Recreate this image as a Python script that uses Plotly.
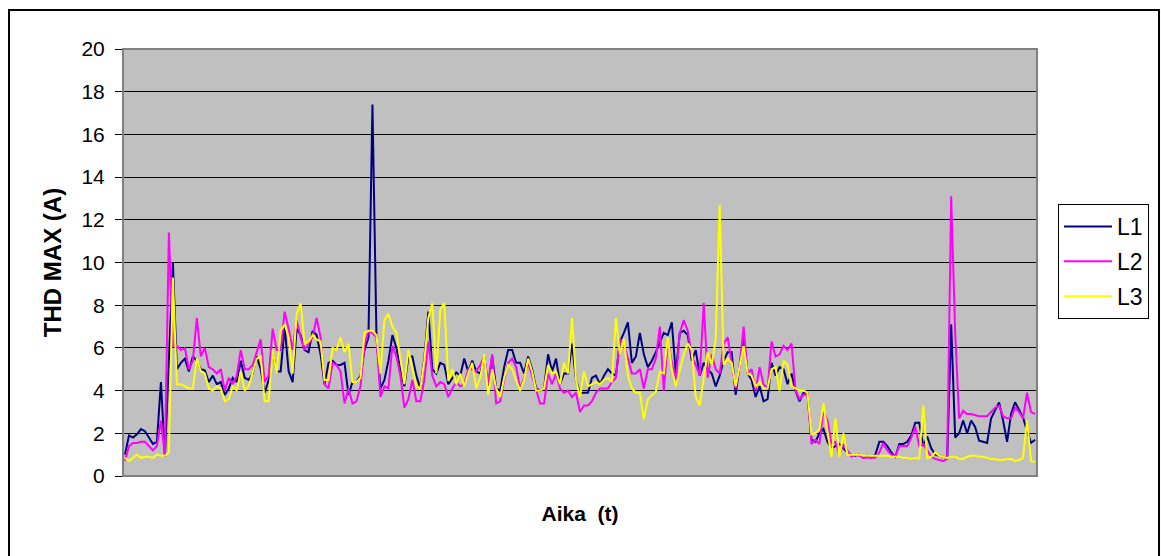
import plotly.graph_objects as go

# THD maximum current per phase over the measurement period
l1 = [1.0, 1.9, 1.8, 1.95, 2.2, 2.1, 1.8, 1.5, 1.6, 4.4, 0.9, 5.5, 10.0, 5.0, 5.3, 5.5, 4.9, 5.6, 5.4, 5.0,
      4.95, 4.4, 4.7, 4.3, 4.4, 3.8, 4.1, 4.6, 4.4, 5.4, 4.6, 4.5, 4.8, 5.6, 5.0, 3.9, 4.5, 5.8, 4.9,
      4.9, 7.0, 4.9, 4.4, 6.9, 6.6, 5.9, 5.8, 6.8, 6.6, 5.7, 4.3, 5.3, 5.4, 5.2, 5.2, 5.3, 3.8, 4.4, 4.4,
      4.7, 5.9, 6.5, 17.4, 6.6, 4.1, 4.5, 5.4, 6.6, 6.0, 5.0, 4.2, 5.6, 5.6, 4.7, 4.1, 5.5, 7.7, 5.0,
      4.8, 5.3, 5.2, 4.3, 4.6, 4.85, 4.7, 5.5, 4.9, 5.4, 4.9, 4.8, 5.6, 4.2, 5.6, 4.1, 4.0, 5.1, 5.9, 5.9,
      5.3, 5.3, 4.8, 5.6, 5.0, 4.1, 4.0, 4.1, 5.7, 4.9, 5.5, 4.3, 4.8, 4.8, 6.2, 4.5, 3.9, 3.9, 3.9,
      4.6, 4.7, 4.3, 4.7, 5.0, 4.8, 4.7, 6.3, 6.7, 7.2, 5.3, 5.6, 6.7, 5.7, 5.1, 5.4, 5.8, 6.3, 6.7, 6.6,
      7.2, 4.8, 6.7, 6.8, 6.6, 5.4, 5.9, 4.7, 5.3, 5.0, 4.8, 4.2, 4.7, 5.4, 5.8, 5.8, 3.8, 5.2, 6.5,
      4.8, 4.5, 3.7, 4.2, 3.5, 3.6, 5.3, 4.7, 5.1, 5.0, 4.3, 4.8, 4.0, 3.5, 3.9, 3.9, 1.7, 1.6, 2.0, 2.2,
      1.6, 1.3, 1.4, 1.5, 1.3, 1.1, 1.0, 0.95, 1.0, 0.85, 0.95, 0.85, 1.0, 1.6, 1.6, 1.4, 1.1, 0.9, 1.5,
      1.5, 1.6, 1.9, 2.5, 2.5, 1.4, 1.85, 1.3, 1.0, 0.95, 0.9, 0.85, 7.1, 1.8, 2.0, 2.6, 2.0, 2.6, 2.3,
      1.65, 1.6, 1.55, 2.7, 3.05, 3.45, 2.6, 1.6, 2.9, 3.45, 3.1, 2.75, 2.1, 1.55, 1.7]

l2 = [0.7, 1.4, 1.55, 1.55, 1.6, 1.6, 1.4, 1.2, 1.4, 2.6, 0.95, 11.4, 6.1, 6.1, 5.9, 6.0, 5.0, 5.4, 7.4, 5.6,
      6.0, 5.1, 5.0, 4.8, 5.0, 4.0, 4.6, 4.3, 4.7, 5.9, 5.0, 5.0, 5.2, 5.8, 6.4, 4.4, 4.7, 6.9, 5.9,
      5.9, 7.7, 6.9, 5.9, 7.3, 6.5, 5.9, 6.2, 6.5, 7.4, 6.5, 4.3, 4.1, 5.3, 5.2, 4.9, 3.4, 4.1, 3.4, 3.5,
      4.2, 6.1, 6.8, 6.7, 6.5, 3.7, 4.2, 4.1, 6.1, 5.6, 4.7, 3.2, 3.6, 4.5, 3.5, 3.5, 4.5, 6.3, 4.7,
      4.2, 4.4, 4.3, 3.7, 4.1, 4.4, 4.2, 4.3, 5.0, 5.0, 4.9, 5.2, 5.6, 4.3, 5.7, 3.4, 3.5, 4.5, 5.3, 5.5,
      5.1, 4.1, 4.6, 5.3, 4.7, 4.1, 3.4, 3.4, 4.8, 4.3, 4.8, 4.1, 3.9, 4.0, 3.7, 3.9, 3.0, 3.3, 3.3,
      3.5, 3.9, 4.1, 4.1, 4.1, 4.4, 4.6, 6.4, 6.2, 5.5, 4.8, 4.8, 5.0, 4.1, 5.0, 5.0, 5.5, 7.0, 4.0, 6.3,
      5.4, 4.4, 6.7, 7.3, 6.8, 5.6, 5.2, 4.7, 8.1, 4.6, 5.7, 5.0, 4.8, 6.2, 6.5, 5.2, 4.1, 5.2, 7.0,
      4.8, 5.0, 4.0, 5.1, 4.3, 4.1, 6.3, 5.6, 5.7, 6.1, 5.9, 6.2, 4.0, 3.6, 3.8, 3.8, 1.5, 1.7, 1.5, 3.1,
      2.6, 1.5, 1.6, 1.0, 1.5, 1.2, 0.9, 1.0, 0.95, 0.85, 0.85, 0.85, 0.85, 1.1, 1.55, 1.2, 1.0, 0.95, 1.4,
      1.4, 1.4, 1.8, 2.3, 1.4, 1.5, 1.2, 0.9, 0.8, 0.75, 0.7, 0.8, 13.1, 6.7, 2.7, 3.05, 2.9, 2.9, 2.85,
      2.8, 2.8, 2.8, 3.0, 3.2, 3.3, 2.8, 2.7, 2.7, 3.2, 3.0, 2.7, 3.9, 3.0, 2.9]

l3 = [0.85, 0.7, 0.85, 1.0, 0.85, 0.9, 0.9, 0.85, 1.0, 0.95, 0.95, 1.1, 9.3, 4.3, 4.3, 4.2, 4.1, 4.1, 5.5, 4.9,
      4.8, 4.1, 4.0, 4.2, 4.1, 3.5, 3.6, 4.2, 4.0, 4.9, 4.0, 4.2, 4.9, 5.5, 5.6, 3.5, 3.5, 5.9, 4.8,
      6.8, 7.1, 6.5, 4.8, 7.6, 8.1, 6.2, 6.3, 6.6, 6.4, 6.3, 4.5, 4.5, 6.0, 5.9, 6.5, 5.8, 6.2, 4.4, 4.4,
      4.6, 6.7, 6.8, 6.8, 6.6, 4.8, 7.3, 7.6, 7.0, 6.7, 5.5, 4.3, 5.9, 5.0, 4.2, 4.1, 5.4, 7.4, 8.1,
      4.8, 7.8, 8.1, 4.45, 5.0, 4.3, 4.8, 4.2, 4.8, 5.3, 4.1, 4.6, 5.7, 3.8, 5.0, 4.1, 3.7, 4.6, 5.2, 5.0,
      4.5, 4.0, 4.5, 5.5, 4.9, 4.0, 4.0, 4.1, 5.2, 4.8, 4.9, 4.3, 5.3, 4.8, 7.4, 4.5, 3.7, 4.9, 4.2,
      4.3, 4.4, 4.3, 4.5, 4.6, 4.4, 7.4, 5.7, 6.4, 4.7, 4.1, 3.9, 3.9, 2.65, 3.6, 3.8, 3.95, 4.9, 4.8, 6.5,
      5.0, 4.2, 5.0, 5.7, 6.2, 5.9, 3.7, 3.3, 4.6, 5.8, 5.2, 6.4, 12.7, 5.2, 5.5, 5.3, 4.2, 5.2, 6.1,
      4.8, 4.7, 4.2, 4.4, 4.1, 4.1, 5.0, 5.1, 4.0, 5.4, 5.2, 4.2, 4.1, 4.0, 4.0, 3.9, 1.95, 2.0, 2.2, 3.4,
      2.1, 0.9, 2.7, 0.9, 2.0, 1.0, 1.0, 1.0, 1.0, 0.95, 0.95, 0.95, 0.95, 0.95, 0.95, 0.95, 0.9, 0.9, 0.9,
      0.85, 0.85, 0.8, 0.85, 0.8, 3.3, 0.85, 0.9, 1.1, 0.95, 0.9, 0.85, 0.9, 0.9, 0.8, 0.8, 0.9, 0.95, 0.95,
      0.9, 0.9, 0.85, 0.8, 0.8, 0.75, 0.75, 0.8, 0.8, 0.7, 0.75, 0.85, 2.6, 0.7, 0.65]

series_names = ["L1", "L2", "L3"]
series_colors = ["#000080", "#FF00FF", "#FFFF00"]
y_ticks = [0, 2, 4, 6, 8, 10, 12, 14, 16, 18, 20]

n = len(l1)
x = list(range(n))
FONT = "Liberation Sans, Arial, sans-serif"

fig = go.Figure()
for name, vals, col in zip(series_names, [l1, l2, l3], series_colors):
    fig.add_trace(go.Scatter(
        x=x, y=vals, mode="lines", name=name, legendgroup=name,
        line=dict(color=col, width=2),
    ))

fig.update_layout(
    width=1161, height=556,
    margin=dict(l=123, r=124, t=49, b=80),
    paper_bgcolor="white",
    plot_bgcolor="#C0C0C0",
    font=dict(family=FONT, color="black"),
    showlegend=True,
    legend=dict(
        x=1.023, y=0.637, xanchor="left", yanchor="top",
        bgcolor="white", bordercolor="black", borderwidth=1,
        font=dict(size=23, family=FONT),
        tracegroupgap=2,
        itemwidth=48,
    ),
    xaxis=dict(
        range=[-0.5, n - 0.5],
        showticklabels=False, showgrid=False, zeroline=False,
        ticks="", showline=False,
        title=dict(text="Aika  (t)", font=dict(size=21, family=FONT, weight="bold"), standoff=30),
    ),
    yaxis=dict(
        range=[0, 20], tickvals=y_ticks, ticktext=[str(v) for v in y_ticks],
        showgrid=True, gridcolor="black", gridwidth=1,
        zeroline=False,
        ticks="outside", ticklen=7, tickcolor="black", tickwidth=1,
        showline=True, linecolor="black", linewidth=1,
        tickfont=dict(size=21, family=FONT),
        ticklabelstandoff=6,
        title=dict(text="THD MAX (A)", font=dict(size=24, family=FONT, weight="bold"), standoff=13),
    ),
    shapes=[
        # plot area frame
        dict(type="rect", xref="paper", yref="paper", x0=0, x1=1, y0=0, y1=1,
             line=dict(color="#808080", width=2), layer="above"),
        # outer chart border
        dict(type="rect", xref="paper", yref="paper",
             x0=-0.1247, x1=1.1335, y0=-0.2, y1=1.0914,
             line=dict(color="black", width=2)),
    ],
)

fig.write_html("out.html")
